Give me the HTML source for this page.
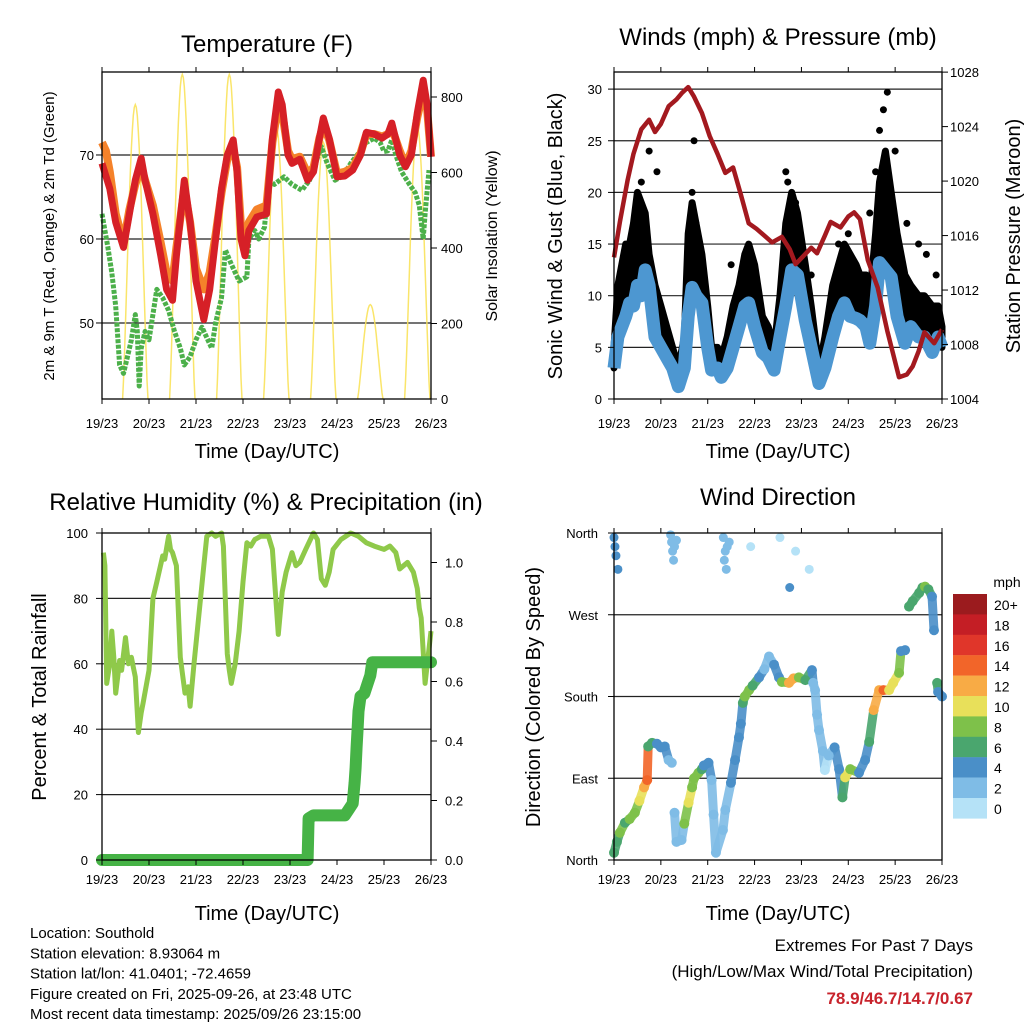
<!DOCTYPE html>
<html><head><meta charset="utf-8"><style>
html,body{margin:0;padding:0;background:#fff}
svg{display:block;font-family:"Liberation Sans",sans-serif}
</style></head><body>
<svg id="s" width="1024" height="1024" viewBox="0 0 1024 1024" xmlns="http://www.w3.org/2000/svg">
<g id="g"></g>
</svg>
<script>
// ---------- data ----------
const dayLabels = ["19/23","20/23","21/23","22/23","23/23","24/23","25/23","26/23"];
const tempHours = [0,2,4,7,11,14,17,20,22,26,30,33,36,38,42,45,48,52,55,58,61,64,67,69,71,73,75,79,84,87,90,92,95,97,101,105,108,111,113,116,120,124,128,132,135,139,143,146,148,152,155,158,161,164,166,168];
const temp2m = [69,67.5,66,62,59,63,67,69.6,67,63,58,54,52.7,58,67,62,55,50.4,54,60,66,70,71.8,68,60,58,61,62.6,63,72,77.5,76,70,69,69.5,67,68,72,74.4,72,67.4,67.5,68.2,70,72.7,72.5,72,72.5,73.8,70,68.6,70,75,78.9,76,69.8];
const temp9m = [71.5,70.5,68,63,59.5,63.5,66.5,68.6,67,64,59.5,56,55,59,66,62,56.5,54,56,60.5,65.5,69.5,70.8,68.5,61.5,59.5,62,63.5,64,71.5,76,75,70.5,69.5,69.8,67.8,68.5,72,73.5,71.8,67.8,68,68.5,70.2,72.5,72.5,72.2,72.5,73.2,70.5,68.8,70.5,74.5,77.5,75.5,69.8];
const dewHours = [0,3,5,7,9,11,13,15,17,18,19,20,22,24,26,28,31,34,37,40,42,45,48,51,54,56,58,61,63,66,70,74,75,78,80,83,85,88,93,97,102,106,109,112,115,119,123,127,131,135,139,142,144,146,148,150,153,157,160,162,164,165,167];
const dewPt = [63,59,56,52,45,44,46,48,51,49,42.5,47,49,48,51,54,53,51.5,49,47,45,46,48,49.5,48,47,50,53,58.7,57,55,55.5,60,61,60,61.4,67,66.5,67.4,66.5,65.8,67,69,71,69,67,67.5,69,70.2,71.5,72,71.5,70.4,70.5,71.8,70,68,66.5,65.5,64,60,63,68.2];
const solarPeakHours = [17,41,65,89,113,137,161];
const solarPeaks = [780,860,860,720,680,250,720];
const presHours = [0,3,7,10,14,18,21,24,28,32,35,38,41,45,49,53,57,61,65,69,73,77,81,86,90,93,97,101,104,108,111,116,120,123,126,130,135,140,146,150,153,156,159,164,168];
const pressure = [1014.4,1017,1020.1,1022,1023.8,1024.5,1023.6,1024.2,1025.5,1026,1026.5,1026.9,1026.2,1025,1023.3,1022,1020.6,1021,1019,1016.9,1016.5,1016,1015.5,1015.9,1015,1013.9,1014.5,1015.1,1014.7,1016,1017,1016.6,1017.4,1017.7,1017.2,1014.2,1012.2,1009,1005.6,1005.8,1006.4,1007.5,1008.9,1008.1,1009.1];
const windHours = [0,2,4,6,8,10,12,14,16,18,21,24,27,30,33,36,38,40,42,45,48,50,53,55,58,61,64,67,69,72,76,79,82,85,88,91,94,98,101,105,108,112,115,118,121,124,126,129,131,134,136,139,142,145,149,152,156,159,163,166,168];
const windSpd = [3,6,7,8,9.3,9,11,10,12.5,11,6,5,4,3,1.2,3,8,10.8,10,9.3,5,2.8,3,2.1,3,5,7,9,9.3,7,4.5,4,2.8,6,9,12.5,12,7.6,5,1.5,3,6,8,9.3,8,7.8,7.6,7,5.4,9,13.2,12.5,11.8,8,5.4,7,6,6,4.5,6,5];
const gustHours = [0,2,4,6,8,10,12,14,16,18,21,24,27,30,33,36,38,40,42,45,48,50,53,55,58,61,64,67,69,72,76,79,82,85,88,91,94,98,101,105,108,112,115,118,121,124,126,129,131,134,136,139,142,145,149,152,156,159,163,166,168];
const gustSpd = [5,11,13,15,15,17,20,19,18,14,11,9,7,5,3,6,16,19,17,14,9,5,5,4,6,9,11,14,15,13,8,7,5,10,17,20,18,13,9,3,6,11,13,15,14,13,12,12,10,16,21,24,20,16,12,11,10,10,9,9,7];
const gustOutHours = [14,18,22,40,41,42,60,88,89,93,101,115,120,131,134,136,138,140,144,150,156,160,165];
const gustOutVals = [21,24,22,20,25,17,13,22,21,19,12,15,16,18,22,26,28,29.7,24,17,15,14,12];
const rhHours = [0.7,1.5,2.4,4,5,6,7,8,9,10,12,13.5,15,16,17,18.6,20,21,24,26,28,31,32,34,35,36,38,40,42.4,44,45,47,50,52,53.5,56,58,61,62,64,65,66,68,70,72,74,76,78,81,85,87,90,92,94,97,99,101,104,108,110,112,114,116,118,122,127,131,135,139,144,147,150,152,154,156,159,161,162,163,165,168];
const rhVals = [94,90,54,60,70,62,51,56,61,58,68,60,62,59,56,39,45,48,58,80,85,93,92,99,95,94,90,62,51,53,47,60,78,90,99,100,99,100,96,63,58,54,60,70,85,97,96,98,99,99,95,69,82,88,94,90,91,95,100,98,86,84,88,95,98,100,99,97,96,95,96,94,89,90,91,88,83,77,74,54,70,93];
const rainHours = [0,105,105.5,108,124,126,128,129,129.5,130,130.5,131,132,134,136,137,138,168];
const rainVals = [0,0,0.14,0.15,0.15,0.17,0.19,0.26,0.31,0.38,0.44,0.5,0.55,0.56,0.6,0.62,0.665,0.665];
const dirHours = [0,1.5,3,5.6,8,10.7,13,15.4,17,17.5,19.5,22,24,26,28,29.6,31,32,34.6,36,38.2,40,41,43.3,45,46,48.4,50,51,52.2,55.8,57,59.9,62,64,65,66,67,69.2,71,74.3,77,79.4,82,84.5,86,89.6,92,94.7,98,101.4,102,103,104,105,107,108,110,113,115.3,117,118.4,121,125.5,128.6,130.7,133,135.8,138,140.9,143,146,147,149.1,151.1,153,156.3,158,159.3,161,162.9,163.9,165.5,166,168];
const dirDeg = [8,20,30,41,45,52,65,80,88,125,129,128,124,125,110,107,52,20,22,40,63,80,90,96,100,104,107,88,50,8,33,55,85,110,135,150,173,180,187,192,201,210,224,215,201,196,195,200,201,198,209,195,187,160,143,120,99,115,124,100,69,91,100,96,110,130,165,187,187,187,195,206,230,231,279,285,294,300,301,298,290,253,195,185,180];
const dirSpd = [6,7,8,7,8,9,10,13,14,6,6,5,4,4,3,3,2,2,3,8,10,9,8,8,7,5,4,3,2,2,3,3,4,4,4,5,6,9,9,6,4,3,3,4,5,8,13,12,8,6,4,3,3,2,2,2,1,2,4,4,7,10,8,5,4,6,12,12,14,11,10,8,5,4,6,6,6,7,8,6,4,4,6,4,4];
const northHours = [0,0.5,1,2,29,29.5,30,30.5,31,32,56,56.5,57,57.5,58,59,70,85,90,93,100];
const northDeg = [355,345,335,320,358,350,340,330,345,352,355,330,340,320,345,350,345,355,300,340,320];
const northSpd = [5,4,4,4,2,2,2,2,2,2,2,2,2,2,2,2,1,1,4,1,1];
const cbLabels = ["20+","18","16","14","12","10","8","6","4","2","0"];
const cbColors = ["#9b1b1e","#c41e25","#e0362a","#f26529","#f8ab45","#e8e05a","#7ec14a","#4aa66e","#4a8fc8","#7fbce6","#b5e2f7"];
// ---------- helpers ----------
const NS="http://www.w3.org/2000/svg";
const G=document.getElementById('g');
function el(tag,attrs,parent){const e=document.createElementNS(NS,tag);for(const k in attrs)e.setAttribute(k,attrs[k]);(parent||G).appendChild(e);return e;}
function txt(x,y,s,size,anchor,rot,extra){const t=el('text',{x:x,y:y,'font-size':size,'text-anchor':anchor||'middle',fill:'#000'});if(rot)t.setAttribute('transform','rotate(-90 '+x+' '+y+')');if(extra)for(const k in extra)t.setAttribute(k,extra[k]);t.textContent=s;return t;}
function spdColor(v){let i=Math.min(10,Math.floor(v/2));return cbColors[10-i];}
function pts(hs,vs,fx,fy){return hs.map((h,i)=>fx(h).toFixed(1)+','+fy(vs[i]).toFixed(1)).join(' ');}

function frame(x0,y0,x1,y1,name,lblOff){
  const r=el('rect',{x:x0,y:y0,width:x1-x0,height:y1-y0,fill:'none',stroke:'#000','stroke-width':1.3});
  
  
  const xs=(x1-x0)/7;
  for(let i=0;i<8;i++){const x=x0+i*xs;
    el('line',{x1:x,y1:y1,x2:x,y2:y1+5,stroke:'#000','stroke-width':1});
    el('line',{x1:x,y1:y0,x2:x,y2:y0-5,stroke:'#000','stroke-width':1});
    const t=txt(x,y1+lblOff,dayLabels[i],13);
    
    
  }
}
function hline(x0,x1,y){el('line',{x1:x0,y1:y,x2:x1,y2:y,stroke:'#222','stroke-width':1.2});}

// ---------- Panel 1: temperature ----------
(function(){
  const x0=102,x1=431,y0=72,y1=399;
  const fx=h=>x0+h*(x1-x0)/168;
  const fy=v=>399-(v-40.95)*8.4;
  const fs=v=>399-v*0.3775;
  [50,60,70].forEach(v=>hline(x0,x1,fy(v)));
  solarPeakHours.forEach((ph,i)=>{
    let p=[];for(let k=-6.5;k<=6.5;k+=0.5){const c=Math.max(0,Math.cos(k/6.5*Math.PI/2));p.push(fx(ph+k).toFixed(1)+','+fs(solarPeaks[i]*c**1.3).toFixed(1));}
    const l=el('polyline',{points:p.join(' '),fill:'none',stroke:'#f9e25a','stroke-width':1.5,opacity:0.9});
    
    
  });
  let l=el('polyline',{points:pts(dewHours,dewPt,fx,fy),fill:'none',stroke:'#4cb04a','stroke-width':5,'stroke-dasharray':'4 1.5','stroke-linejoin':'round'});
  
  
  l=el('polyline',{points:pts(tempHours,temp9m,fx,fy),fill:'none',stroke:'#f5822a','stroke-width':8,'stroke-linejoin':'round'});
  
  
  l=el('polyline',{points:pts(tempHours,temp2m,fx,fy),fill:'none',stroke:'#d62027','stroke-width':7,'stroke-linejoin':'round'});
  
  
  frame(x0,y0,x1,y1,'temperature',29);
  [50,60,70].forEach(v=>{el('line',{x1:x0-6,y1:fy(v),x2:x0,y2:fy(v),stroke:'#000'});const t=txt(x0-8,fy(v)+5,String(v),13,'end');});
  [0,200,400,600,800].forEach(v=>{el('line',{x1:x1,y1:fs(v),x2:x1+6,y2:fs(v),stroke:'#000'});const t=txt(x1+10,fs(v)+5,String(v),13,'start');});
  let t=txt(267,52,'Temperature (F)',24);
  t=txt(267,458,'Time (Day/UTC)',20);
  t=txt(54,236,'2m & 9m T (Red, Orange) & 2m Td (Green)',15,'middle',true);
  t=txt(497,236,'Solar Insolation (Yellow)',16,'middle',true);
})();

// ---------- Panel 2: winds ----------
(function(){
  const x0=614,x1=942,y0=72,y1=399;
  const fx=h=>x0+h*(x1-x0)/168;
  const fy=v=>399-v*10.33;
  const fp=p=>399-(p-1004)*13.62;
  [5,10,15,20,25,30].forEach(v=>hline(x0,x1,fy(v)));
  let band=gustHours.map((h,i)=>fx(h).toFixed(1)+','+fy(gustSpd[i]).toFixed(1));
  for(let i=windHours.length-1;i>=0;i--) band.push(fx(windHours[i]).toFixed(1)+','+fy(windSpd[i]).toFixed(1));
  let b=el('polygon',{points:band.join(' '),fill:'#000',stroke:'#000','stroke-width':7,'stroke-linejoin':'round'});
  
  
  gustOutHours.forEach((h,i)=>{const c=el('circle',{cx:fx(h),cy:fy(gustOutVals[i]),r:3.5,fill:'#000'});});
  let l=el('polyline',{points:pts(windHours,windSpd,fx,fy),fill:'none',stroke:'#4d97d1','stroke-width':13,'stroke-linejoin':'round'});
  
  
  l=el('polyline',{points:pts(presHours,pressure,fx,fp),fill:'none',stroke:'#a3191f','stroke-width':4.5,'stroke-linejoin':'round'});
  
  
  frame(x0,y0,x1,y1,'winds',29);
  [0,5,10,15,20,25,30].forEach(v=>{el('line',{x1:x0-6,y1:fy(v),x2:x0,y2:fy(v),stroke:'#000'});const t=txt(x0-12,fy(v)+5,String(v),13,'end');});
  [1004,1008,1012,1016,1020,1024,1028].forEach(v=>{el('line',{x1:x1,y1:fp(v),x2:x1+6,y2:fp(v),stroke:'#000'});const t=txt(x1+8,fp(v)+5,String(v),13,'start');});
  let t=txt(778,45,'Winds (mph) & Pressure (mb)',24);
  t=txt(778,458,'Time (Day/UTC)',20);
  t=txt(562,236,'Sonic Wind & Gust (Blue, Black)',20,'middle',true);
  t=txt(1020,236,'Station Pressure (Maroon)',20,'middle',true);
})();

// ---------- Panel 3: RH & precip ----------
(function(){
  const x0=102,x1=431,y0=533,y1=860;
  const fx=h=>x0+h*(x1-x0)/168;
  const fy=v=>860-v*3.27;
  const fr=v=>860-v*297.5;
  [20,40,60,80].forEach(v=>hline(x0,x1,fy(v)));
  let l=el('polyline',{points:pts(rhHours,rhVals,fx,fy),fill:'none',stroke:'#8fc94a','stroke-width':5,'stroke-linejoin':'round'});
  
  
  l=el('polyline',{points:pts(rainHours,rainVals,fx,fr),fill:'none',stroke:'#46b346','stroke-width':12,'stroke-linejoin':'round','stroke-linecap':'round'});
  
  
  frame(x0,y0,x1,y1,'humidity',24);
  [0,20,40,60,80,100].forEach(v=>{el('line',{x1:x0-6,y1:fy(v),x2:x0,y2:fy(v),stroke:'#000'});const t=txt(x0-14,fy(v)+5,String(v),13,'end');});
  [0,0.2,0.4,0.6,0.8,1.0].forEach(v=>{el('line',{x1:x1,y1:fr(v),x2:x1+6,y2:fr(v),stroke:'#000'});const t=txt(x1+14,fr(v)+5,v.toFixed(1),13,'start');});
  let t=txt(266,510,'Relative Humidity (%) & Precipitation (in)',24);
  t=txt(267,920,'Time (Day/UTC)',20);
  t=txt(46,697,'Percent & Total Rainfall',20,'middle',true);
})();

// ---------- Panel 4: wind direction ----------
(function(){
  const x0=614,x1=942,y0=533,y1=860;
  const fx=h=>x0+h*(x1-x0)/168;
  const fd=d=>860-d*(327/360);
  [90,180,270].forEach(v=>hline(x0,x1,fd(v)));
  for(let i=0;i<dirHours.length-1;i++){
    if(Math.abs(dirDeg[i+1]-dirDeg[i])>45) continue;
    const s=el('line',{x1:fx(dirHours[i]),y1:fd(dirDeg[i]),x2:fx(dirHours[i+1]),y2:fd(dirDeg[i+1]),stroke:spdColor(dirSpd[i]),'stroke-width':9,'stroke-linecap':'round',opacity:0.9});
    
    
  }
  dirHours.forEach((h,i)=>{const c=el('circle',{cx:fx(h),cy:fd(dirDeg[i]),r:5,fill:spdColor(dirSpd[i])});});
  northHours.forEach((h,i)=>{const c=el('circle',{cx:fx(h),cy:fd(northDeg[i]),r:4.5,fill:spdColor(northSpd[i])});});
  frame(x0,y0,x1,y1,'direction',24);
  ['North','East','South','West','North'].forEach((s,i)=>{const y=fd(i*90);el('line',{x1:x0-6,y1:y,x2:x0,y2:y,stroke:'#000'});const t=txt(x0-16,y+5,s,13,'end');});
  cbColors.forEach((c,i)=>{const r=el('rect',{x:953,y:594+i*20.4,width:34,height:20.6,fill:c});
    const t=txt(994,594+i*20.4+16,cbLabels[i],14,'start');});
  let t=txt(1007,587,'mph',14);
  t=txt(778,505,'Wind Direction',24);
  t=txt(778,920,'Time (Day/UTC)',20);
  t=txt(540,697,'Direction (Colored By Speed)',20,'middle',true);
})();

// ---------- footer ----------
const footerLines=["Location: Southold","Station elevation: 8.93064 m","Station lat/lon: 41.0401; -72.4659","Figure created on Fri, 2025-09-26, at 23:48 UTC","Most recent data timestamp: 2025/09/26 23:15:00"];
footerLines.forEach((s,i)=>{const t=txt(30,938+i*20.3,s,15,'start');});
let t=txt(973,951,'Extremes For Past 7 Days',17,'end');
t=txt(973,977,'(High/Low/Max Wind/Total Precipitation)',17,'end');
t=txt(973,1004,'78.9/46.7/14.7/0.67',17,'end',false,{fill:'#c8232c','font-weight':'bold'});
</script>
</body></html>
